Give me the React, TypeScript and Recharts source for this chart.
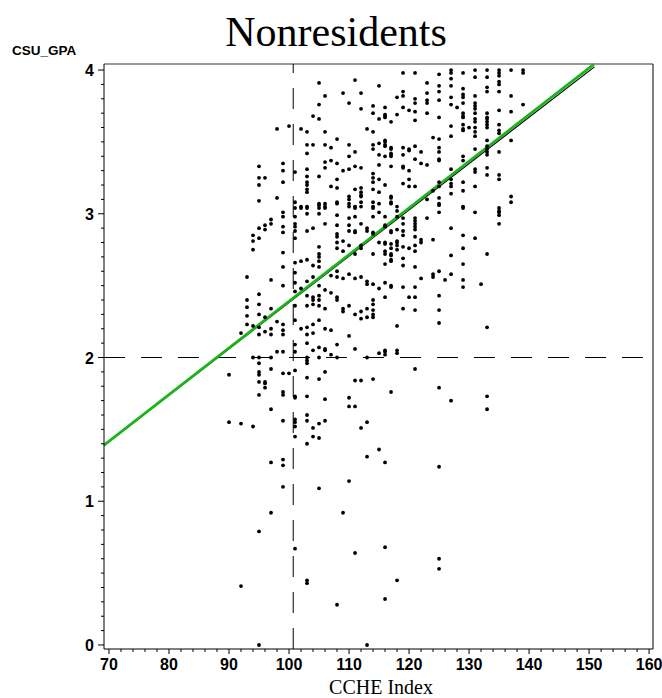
import { ReferenceLine, Scatter, ScatterChart, XAxis, YAxis } from "recharts";

// CCHE index columns and the CSU GPA values
const cche = [
  90, 92, 93, 94, 95, 96, 97, 98, 99, 100, 101, 102, 103, 104, 105, 106, 107, 108, 109, 110, 111, 112, 113, 114, 115,
  116, 117, 118, 119, 120, 121, 122, 123, 124, 125, 126, 127, 128, 129, 130, 131, 132, 133, 135, 137, 139,
];

const gpa: number[][] = [
  [1.88, 1.55],
  [2.17, 1.54, 0.41],
  [2.56, 2.4, 2.35, 2.29, 2.23],
  [2.85, 2.81, 2.75, 2.22, 2.0, 1.52],
  [3.33, 3.25, 3.2, 3.09, 2.9, 2.83, 2.44, 2.37, 2.3, 2.21, 2.16, 2.0, 1.96, 1.9, 1.88, 1.83, 1.74, 0.79, 0.0],
  [3.25, 2.92, 2.89, 2.28, 2.18, 1.83, 1.82, 1.79],
  [2.96, 2.93, 2.54, 2.34, 2.2, 2.16, 2.0, 1.92, 1.64, 1.27, 0.92],
  [3.59, 3.11, 2.25, 2.04],
  [3.35, 3.3, 3.22, 3.01, 2.98, 2.91, 2.87, 2.73, 2.63, 2.5, 2.23, 2.19, 2.16, 2.04, 1.89, 1.76, 1.74, 1.56, 1.29, 1.25, 1.1],
  [3.61, 1.89],
  [3.29, 3.08, 3.04, 2.98, 2.93, 2.91, 2.88, 2.83, 2.66, 2.59, 2.52, 2.46, 2.36, 2.26, 2.09, 2.04, 1.91, 1.73, 1.72, 1.57, 1.55, 1.52, 1.45, 0.67],
  [3.59, 3.05, 3.04, 2.67, 2.48, 2.2],
  [3.57, 3.48, 3.42, 3.31, 3.26, 3.22, 3.2, 3.17, 3.15, 3.05, 3.04, 3.0, 2.88, 2.68, 2.53, 2.43, 2.36, 2.21, 2.16, 2.1, 2.0, 1.98, 1.96, 1.86, 1.73, 1.6, 1.56, 1.4, 0.45, 0.43],
  [3.68, 3.48, 2.9, 2.64, 2.56, 2.42, 2.4, 2.37, 2.23, 2.17, 2.05, 1.51, 1.45],
  [3.91, 3.76, 3.66, 3.26, 3.07, 3.06, 3.04, 3.0, 2.77, 2.72, 2.7, 2.67, 2.63, 2.5, 2.43, 2.4, 2.36, 2.26, 2.07, 2.0, 1.85, 1.54, 1.44, 1.09],
  [3.82, 3.57, 3.48, 3.36, 3.32, 3.07, 3.05, 3.04, 2.93, 2.47, 2.34, 2.2, 2.06, 2.05, 1.9, 1.71, 1.56],
  [3.46, 3.37, 3.19, 2.57, 2.45, 2.19, 2.02],
  [3.52, 3.35, 3.24, 3.18, 3.08, 3.07, 2.99, 2.92, 2.86, 2.84, 2.8, 2.76, 2.6, 2.56, 2.42, 2.4, 2.09, 2.0, 0.28],
  [3.84, 3.3, 2.81, 2.74, 2.55, 2.34, 2.32, 0.92],
  [3.77, 3.48, 3.4, 3.31, 3.12, 3.1, 3.07, 3.05, 2.97, 2.92, 2.88, 2.78, 2.58, 2.36, 2.15, 1.72, 1.66, 1.14],
  [3.93, 3.43, 3.33, 3.17, 3.05, 3.04, 2.98, 2.88, 2.87, 2.72, 2.55, 2.3, 2.06, 1.84, 1.66, 0.64],
  [3.84, 3.73, 3.32, 3.18, 3.15, 3.13, 3.12, 3.08, 3.05, 2.93, 2.78, 2.76, 2.56, 2.32, 2.27, 1.84, 1.51],
  [3.59, 2.9, 2.88, 2.53, 2.51, 2.34, 2.28, 2.0, 1.55, 1.31, 0.0],
  [3.75, 3.7, 3.57, 3.48, 3.45, 3.28, 3.25, 3.22, 3.17, 3.08, 3.05, 3.04, 2.98, 2.87, 2.86, 2.72, 2.51, 2.4, 2.37, 2.33, 2.3, 2.28, 1.85],
  [3.89, 3.66, 3.49, 3.41, 3.34, 3.24, 3.15, 3.07, 3.01, 2.8, 2.48, 2.03, 1.36],
  [3.74, 3.69, 3.68, 3.67, 3.51, 3.5, 3.48, 3.47, 3.4, 3.2, 2.98, 2.92, 2.91, 2.8, 2.79, 2.74, 2.72, 2.65, 2.52, 2.42, 2.05, 2.04, 2.02, 1.27, 0.68, 0.32],
  [3.64, 3.46, 3.45, 3.42, 3.41, 3.4, 3.33, 3.12, 3.11, 3.08, 3.07, 2.88, 2.87, 2.79, 2.76, 2.72, 2.71, 2.68, 2.67, 2.5, 2.49, 1.76],
  [3.81, 3.69, 3.05, 3.02, 2.98, 2.89, 2.81, 2.8, 2.78, 2.75, 2.22, 2.05, 2.03, 0.45],
  [3.98, 3.85, 3.82, 3.74, 3.46, 3.41, 3.33, 3.32, 3.21, 2.97, 2.93, 2.88, 2.85, 2.77, 2.69, 2.64, 2.49, 2.34],
  [3.72, 3.45, 3.44, 3.3, 3.24, 3.19, 2.76, 2.42],
  [3.98, 3.8, 3.77, 3.71, 3.65, 3.47, 3.38, 3.19, 2.97, 2.95, 2.93, 2.91, 2.89, 2.84, 2.78, 2.74, 2.63, 2.49, 2.42, 2.33, 1.92],
  [3.43, 3.35, 2.82, 2.8, 2.55],
  [3.91, 3.84, 3.79, 3.77, 3.7, 3.34, 3.1, 2.97],
  [3.53, 3.16, 2.82, 2.58, 2.56],
  [3.97, 3.89, 3.85, 3.79, 3.67, 3.52, 3.46, 3.43, 3.38, 3.37, 3.22, 3.19, 3.11, 3.07, 3.06, 3.01, 2.6, 2.43, 2.33, 2.24, 1.79, 1.24, 0.6, 0.53],
  [2.54],
  [4.0, 3.98, 3.94, 3.89, 3.81, 3.76, 3.61, 3.54, 3.31, 3.24, 3.21, 3.19, 3.14, 2.9, 2.71, 2.58, 1.7],
  [3.74],
  [3.98, 3.87, 3.83, 3.81, 3.77, 3.7, 3.68, 3.67, 3.62, 3.59, 3.58, 3.4, 3.37, 3.22, 3.16, 3.05, 3.04, 2.85, 2.76, 2.65, 2.54, 2.49],
  [3.6],
  [4.0, 3.95, 3.82, 3.77, 3.75, 3.73, 3.7, 3.66, 3.64, 3.6, 3.57, 3.54, 3.45, 3.31, 3.29, 3.19, 3.01, 2.83],
  [2.51],
  [4.0, 3.95, 3.88, 3.85, 3.7, 3.67, 3.66, 3.64, 3.62, 3.6, 3.51, 3.47, 3.45, 3.43, 3.41, 3.32, 3.27, 2.72, 2.21, 1.73, 1.64],
  [4.0, 3.98, 3.96, 3.92, 3.9, 3.85, 3.72, 3.62, 3.58, 3.56, 3.43, 3.27, 3.24, 3.04, 3.02, 3.01, 2.99, 2.93],
  [4.0, 3.82, 3.71, 3.51, 3.12, 3.08],
  [4.0, 3.98, 3.76],
];

// fitted lines (end points) and reference cut-offs
const greenFit = [
  { x: 69.17, y: 1.39 },
  { x: 150.8, y: 4.04 },
];
const blackFit = [
  { x: 69.17, y: 1.39 },
  { x: 150.9, y: 4.022 },
];
const cutIndex = 100.7;
const cutGpa = 2;

const xDomain: [number, number] = [69.17, 160.65];
const yDomain: [number, number] = [-0.028, 4.042];
const xTicks = Array.from({ length: 46 }, (_, i) => 70 + i * 2);
const yTicks = Array.from({ length: 41 }, (_, i) => i / 10);

const points = cche.flatMap((x, i) => gpa[i].map((y) => ({ x, y })));

const tickFont = { fontFamily: "'Liberation Sans', Arial, sans-serif", fontWeight: 700, fontSize: 16, fill: "#000" };

function XTick({ x, y, payload }: any) {
  const major = payload.value % 10 === 0;
  return (
    <g>
      <line x1={x} x2={x} y1={y} y2={y + (major ? 5 : 3)} stroke="#000" />
      {major && (
        <text x={x} y={y + 21} textAnchor="middle" {...tickFont}>
          {payload.value}
        </text>
      )}
    </g>
  );
}

function YTick({ x, y, payload }: any) {
  const v = Math.round(payload.value * 10);
  const major = v % 10 === 0;
  return (
    <g>
      <line x1={x} x2={x - (major ? 6 : 3)} y1={y} y2={y} stroke="#000" />
      {major && (
        <text x={x - 10} y={y + 6} textAnchor="end" {...tickFont}>
          {v / 10}
        </text>
      )}
    </g>
  );
}

const Dot = ({ cx, cy }: any) => <circle cx={cx} cy={cy} r={1.9} fill="#000" />;

export default function App() {
  return (
    <div style={{ position: "absolute", left: 0, top: 0, width: 662, height: 698, background: "#fff" }}>
      <ScatterChart width={662} height={698} margin={{ top: 64, right: 9, bottom: 19, left: 0 }}>
        <text x={336} y={46} textAnchor="middle" fontFamily="'Liberation Serif', 'Times New Roman', serif" fontSize={42}>
          Nonresidents
        </text>
        <text x={12} y={55} fontFamily="'Liberation Sans', Arial, sans-serif" fontWeight={700} fontSize={13.5}>
          CSU_GPA
        </text>
        <text x={381} y={694} textAnchor="middle" fontFamily="'Liberation Serif', 'Times New Roman', serif" fontSize={20}>
          CCHE Index
        </text>
        <XAxis
          type="number"
          dataKey="x"
          domain={xDomain}
          ticks={xTicks}
          allowDataOverflow
          height={30}
          tickSize={0}
          tickMargin={0}
          tickLine={false}
          tick={<XTick />}
          axisLine={{ stroke: "#000" }}
          interval={0}
        />
        <YAxis
          type="number"
          dataKey="y"
          domain={yDomain}
          ticks={yTicks}
          allowDataOverflow
          width={104}
          tickSize={0}
          tickMargin={0}
          tickLine={false}
          tick={<YTick />}
          axisLine={{ stroke: "#000" }}
          interval={0}
        />
        <ReferenceLine y={yDomain[1]} stroke="#333" />
        <ReferenceLine x={xDomain[1]} stroke="#000" />
        <ReferenceLine y={cutGpa} stroke="#000" strokeDasharray="21 16" />
        <ReferenceLine x={cutIndex} stroke="#000" strokeDasharray="21 15" />
        <Scatter data={points} shape={<Dot />} isAnimationActive={false} />
        <ReferenceLine segment={blackFit} stroke="#000" strokeWidth={1.2} ifOverflow="visible" />
        <ReferenceLine segment={greenFit} stroke="#1cb41c" strokeWidth={2.8} ifOverflow="visible" />
      </ScatterChart>
    </div>
  );
}
